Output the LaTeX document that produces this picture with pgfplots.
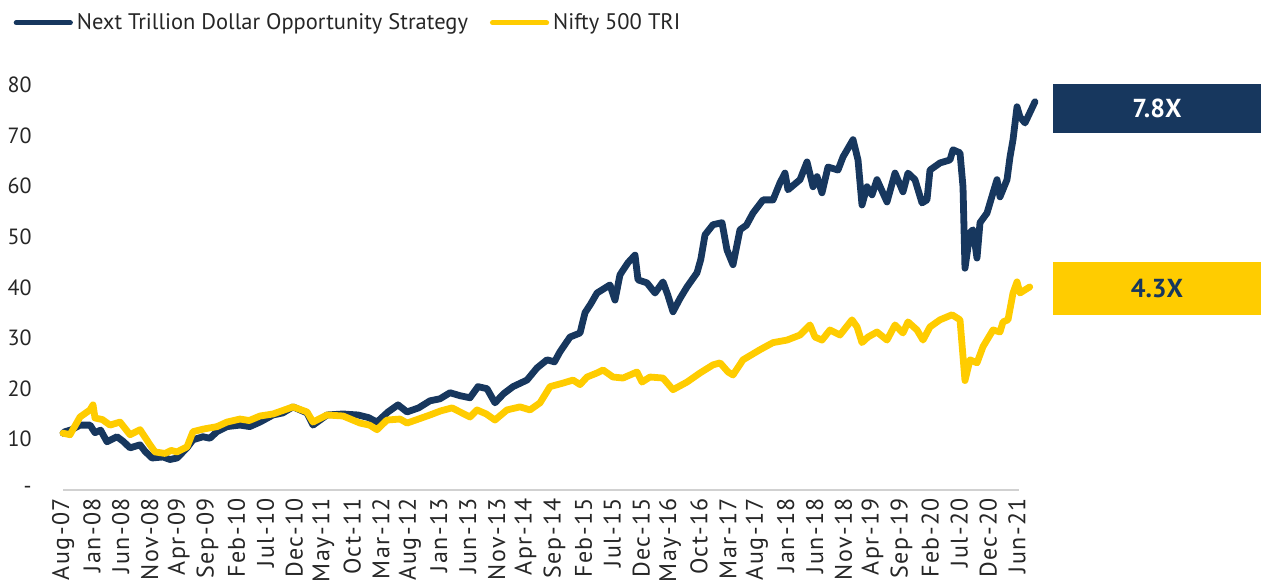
\documentclass[border=0pt]{standalone}
\usepackage{fontspec}
\setmainfont{PT Sans}
\newfontfamily\xlabfont{PT Sans}[LetterSpace=6]
\usepackage{pgfplots}
\pgfplotsset{compat=1.18}
\definecolor{navy}{HTML}{17375E}
\definecolor{gold}{HTML}{FFCC00}
\definecolor{txt}{HTML}{262626}
\begin{document}
\begin{tikzpicture}
\begin{axis}[
  width=478pt, height=202.5pt, scale only axis,
  xmin=0, xmax=165.3, ymin=0, ymax=80,
  clip=false,
  axis lines*=left,
  y axis line style={draw=none},
  x axis line style={draw=black!18, line width=1pt},
  tick style={draw=none},
  ytick={0,10,...,80},
  yticklabels={-,10,20,30,40,50,60,70,80},
  xtick={0,5,...,165},
  xticklabels={Aug-07,Jan-08,Jun-08,Nov-08,Apr-09,Sep-09,Feb-10,Jul-10,Dec-10,May-11,Oct-11,Mar-12,Aug-12,Jan-13,Jun-13,Nov-13,Apr-14,Sep-14,Feb-15,Jul-15,Dec-15,May-16,Oct-16,Mar-17,Aug-17,Jan-18,Jun-18,Nov-18,Apr-19,Sep-19,Feb-20,Jul-20,Dec-20,Jun-21},
  xticklabel style={rotate=90, anchor=east, inner sep=0pt, font=\xlabfont\fontsize{12}{14}\selectfont, text=txt, xshift=-4pt},
  yticklabel style={anchor=east, inner sep=0pt, font=\fontsize{11}{13}\selectfont, text=txt, xshift=-15.5pt},
  legend columns=2,
  legend cell align=left,
  legend style={draw=none, fill=none, inner sep=0pt, font=\fontsize{11.25}{13}\selectfont, text=txt,
    at={(axis cs:-8.6,92.3)}, anchor=west,
    /tikz/every even column/.append style={column sep=9pt}},
  legend image code/.code={\draw[#1, line width=2.6pt, line cap=round] (0pt,0pt) -- (27pt,0pt);},
  every axis plot/.append style={line width=3.4pt, line join=round, line cap=round},
]
\addplot[navy] coordinates {
(0,11.2)(0.35,11.5)(1.5,11.9)(2.94,12.8)(4.67,12.8)(5.53,11.3)(6.5,11.8)(7.61,9.5)(9.34,10.5)(10.4,9.6)(11.59,8.3)(13.32,8.9)(14.2,7.6)(15.39,6.3)(17.29,6.5)(18.5,6.0)(19.72,6.3)(21.44,8.3)(22.48,9.9)(24.21,10.5)(25.4,10.2)(26.63,11.5)(28.36,12.5)(30.61,12.8)(32.3,12.5)(34.07,13.4)(36.32,14.8)(38.0,15.2)(39.78,16.4)(42.20,15.2)(43.24,12.8)(45.66,14.8)(48.43,15.0)(51.02,14.8)(52.8,14.3)(54.31,13.4)(56.21,15.4)(57.94,16.8)(59.50,15.4)(61.5,16.2)(63.47,17.6)(65.2,18.0)(66.93,19.2)(68.7,18.6)(70.39,18.2)(71.77,20.4)(73.33,20.0)(74.71,17.2)(76.2,19.0)(77.83,20.4)(80.25,21.7)(81.98,24.1)(83.71,25.7)(85.0,25.3)(85.96,27.3)(87.69,30.2)(89.42,31.0)(90.28,35.0)(91.3,36.8)(92.36,38.9)(94.60,40.5)(95.47,37.5)(96.33,42.5)(97.72,44.9)(98.93,46.4)(99.45,41.5)(101.00,40.9)(102.39,38.9)(103.77,41.1)(104.6,38.5)(105.50,35.2)(106.7,37.8)(107.92,40.1)(109.65,42.9)(110.3,45.5)(111.04,50.4)(112.42,52.4)(113.98,52.8)(114.84,47.4)(115.88,44.5)(117.09,51.4)(118.2,52.3)(119.34,54.7)(121.07,57.3)(122.80,57.3)(124.01,60.7)(124.87,62.6)(125.39,59.3)(127.47,61.3)(128.68,64.8)(129.72,59.9)(130.41,61.9)(131.27,58.7)(132.31,63.8)(134.04,63.2)(134.91,65.8)(136.64,69.2)(137.50,65.2)(138.19,56.3)(139.06,59.9)(139.92,58.3)(140.78,61.3)(142.51,56.9)(143.90,62.6)(145.28,58.9)(146.14,62.6)(147.35,61.3)(148.57,56.7)(149.43,57.3)(149.95,63.2)(151.68,64.6)(153.41,65.2)(153.93,67.2)(155.14,66.6)(155.66,59.9)(156.00,43.8)(156.87,50.8)(157.39,51.4)(158.08,45.8)(158.60,52.8)(159.81,54.7)(160.85,58.7)(161.54,61.3)(162.06,57.9)(163.27,61.3)(163.79,65.8)(164.31,69.2)(165.00,75.7)(165.51,73.7)(166.38,72.5)(168.11,76.7)
};
\addlegendentry{Next Trillion Dollar Opportunity Strategy}
\addplot[gold] coordinates {
(0,11.2)(1.21,10.9)(2.94,14.4)(4.67,15.8)(5.19,16.8)(5.53,14.2)(6.8,13.9)(8.13,12.8)(9.86,13.4)(11.59,10.9)(13.32,11.9)(15.05,8.9)(15.91,7.5)(17.64,7.2)(18.7,7.8)(19.72,7.5)(21.44,8.5)(22.48,11.5)(24.21,12.0)(26.63,12.5)(28.36,13.4)(30.61,14.0)(32.2,13.7)(34.07,14.6)(36.32,15.0)(39.78,16.4)(42.20,15.4)(43.24,13.4)(45.66,14.8)(48.43,14.6)(51.37,13.2)(53.0,12.8)(54.31,11.9)(56.04,13.8)(58.29,14.0)(59.50,13.2)(61.5,14.0)(63.47,14.8)(65.3,15.6)(67.28,16.2)(70.39,14.4)(71.60,15.8)(73.2,15.0)(74.71,13.8)(76.79,15.8)(79.04,16.4)(80.77,15.8)(82.50,17.2)(84.23,20.4)(86.48,21.1)(88.21,21.7)(89.42,20.8)(90.63,22.3)(92.36,23.1)(93.39,23.7)(95.12,22.3)(96.85,22.1)(99.27,23.3)(100.14,21.3)(101.52,22.3)(103.77,22.1)(105.50,19.8)(107.92,21.3)(110.17,23.1)(112.42,24.7)(113.64,25.1)(115.02,23.3)(115.88,22.7)(117.61,25.7)(120.55,27.7)(122.80,29.1)(125.22,29.6)(127.47,30.6)(129.20,32.6)(130.06,30.2)(131.27,29.6)(132.65,31.6)(134.38,30.6)(136.46,33.6)(137.33,32.2)(138.19,29.1)(139.23,30.2)(140.78,31.2)(142.51,29.6)(143.90,32.6)(145.28,31.0)(146.14,33.2)(147.70,31.6)(148.74,29.6)(149.95,32.2)(151.68,33.6)(153.76,34.6)(155.14,33.6)(156.00,21.6)(156.87,25.7)(158.08,25.1)(159.12,28.3)(160.85,31.6)(162.06,31.2)(162.58,33.2)(163.44,33.6)(164.31,38.9)(165.00,41.1)(165.51,38.9)(167.20,40.1)
};
\addlegendentry{Nifty 500 TRI}
\fill[navy] (axis cs:171.2,70.6) rectangle (axis cs:207.2,80.2);
\node[text=white, font=\bfseries\fontsize{13}{15}\selectfont] at (axis cs:189.2,75.4) {7.8X};
\fill[gold] (axis cs:171.2,34.6) rectangle (axis cs:207.2,45.1);
\node[text=navy, font=\bfseries\fontsize{13}{15}\selectfont] at (axis cs:189.2,39.85) {4.3X};
\path (axis cs:-10.9,96.8) rectangle (axis cs:207.2,-17.8);
\end{axis}
\end{tikzpicture}
\end{document}
